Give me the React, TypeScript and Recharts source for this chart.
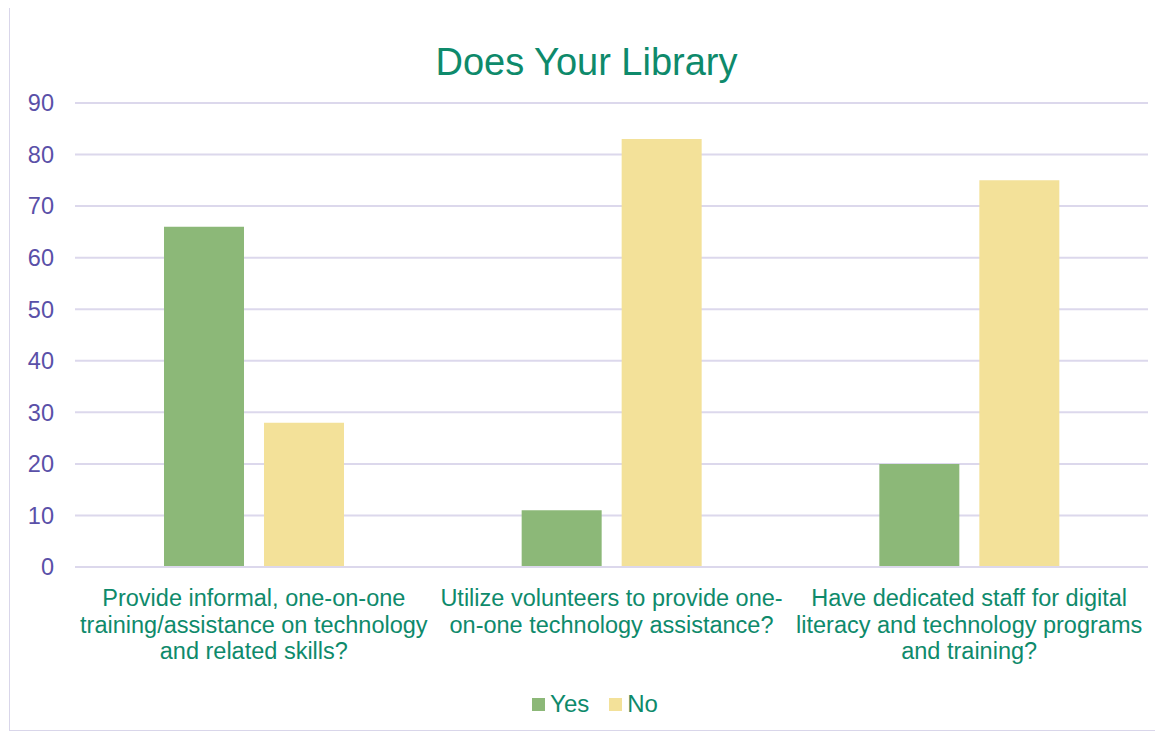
import React from "react";
import { BarChart, Bar, XAxis, YAxis, CartesianGrid, Legend } from "recharts";

const categories = [
  "Provide informal, one-on-one training/assistance on technology and related skills?",
  "Utilize volunteers to provide one-on-one technology assistance?",
  "Have dedicated staff for digital literacy and technology programs and training?",
];
const categoryLines = [
  ["Provide informal, one-on-one", "training/assistance on technology", "and related skills?"],
  ["Utilize volunteers to provide one-", "on-one technology assistance?"],
  ["Have dedicated staff for digital", "literacy and technology programs", "and training?"],
];
const yesValues = [66, 11, 20];
const noValues = [28, 83, 75];
const yTicks = [0, 10, 20, 30, 40, 50, 60, 70, 80, 90];
const title = "Does Your Library";

const series = [
  { key: "Yes", color: "#8cb878" },
  { key: "No", color: "#f3e199" },
];

const data = categories.map((c, i) => ({ name: c, Yes: yesValues[i], No: noValues[i] }));

const FONT = "'Liberation Sans', Arial, sans-serif";
const GREEN_TEXT = "#0e8a6b";
const PURPLE = "#5a50a8";

const XTick = (props: any) => {
  const { x, y, index } = props;
  const lines = categoryLines[index] || [];
  return (
    <text x={x} y={y} textAnchor="middle" fill={GREEN_TEXT} fontSize={23.5} fontFamily={FONT}>
      {lines.map((l, i) => (
        <tspan key={i} x={x} dy={i === 0 ? 31 : 26.5}>
          {l}
        </tspan>
      ))}
    </text>
  );
};

const LegendContent = () => (
  <div
    style={{
      height: 54,
      display: "flex",
      justifyContent: "center",
      alignItems: "flex-start",
      paddingTop: 14,
      boxSizing: "border-box",
      fontFamily: FONT,
      fontSize: 24,
      color: GREEN_TEXT,
      paddingLeft: 52,
    }}
  >
    {series.map((s) => (
      <div key={s.key} style={{ display: "flex", alignItems: "center", marginRight: 20 }}>
        <span style={{ width: 13, height: 13, background: s.color, display: "inline-block", marginRight: 5 }} />
        <span>{s.key}</span>
      </div>
    ))}
  </div>
);

export default function App() {
  return (
    <div
      style={{
        position: "relative",
        width: 1151,
        height: 724,
        marginLeft: 1,
        marginTop: -1,
        border: "1px solid #d9d6ea",
        boxSizing: "border-box",
        background: "#fff",
      }}
    >
      <div
        style={{
          position: "absolute",
          top: 31,
          left: 0,
          width: 1149,
          textAlign: "center",
          fontFamily: FONT,
          fontSize: 38,
          color: GREEN_TEXT,
          lineHeight: "46px",
          paddingLeft: 4,
          boxSizing: "border-box",
        }}
      >
        {title}
      </div>
      <BarChart
        width={1149}
        height={722}
        data={data}
        margin={{ top: 95, right: 11, bottom: 0, left: 0 }}
        barGap={20}
        barSize={80}
      >
        <CartesianGrid vertical={false} stroke="#dcd8ec" strokeWidth={2} />
        <XAxis
          dataKey="name"
          axisLine={{ stroke: "#dcd8ec", strokeWidth: 2 }}
          tickLine={false}
          height={109}
          interval={0}
          tick={<XTick />}
        />
        <YAxis
          width={65}
          domain={[0, 90]}
          ticks={yTicks}
          axisLine={false}
          tickLine={false}
          tickMargin={15}
          tick={{ fill: PURPLE, fontSize: 23.5, fontFamily: FONT }}
        />
        <Legend verticalAlign="bottom" content={<LegendContent />} />
        {series.map((s) => (
          <Bar key={s.key} dataKey={s.key} fill={s.color} isAnimationActive={false} />
        ))}
      </BarChart>
    </div>
  );
}
